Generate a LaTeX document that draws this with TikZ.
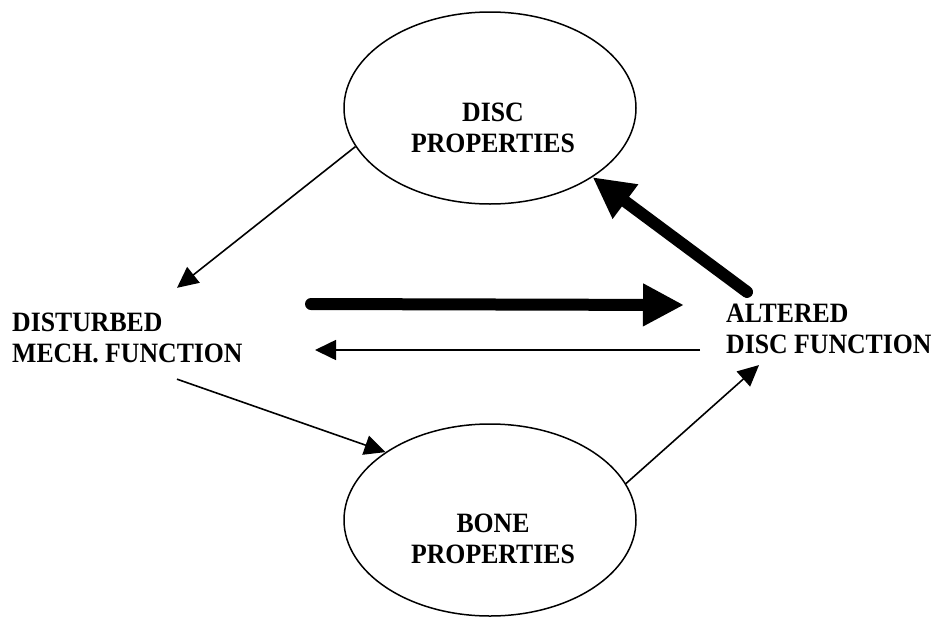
\documentclass[tikz,border=0pt]{standalone}
\usepackage{fontspec}
\setmainfont{Liberation Serif}[FakeStretch=0.92]
\usetikzlibrary{shapes.geometric,arrows.meta}

\tikzset{
  lbl/.style={font=\fontsize{28}{31}\selectfont\bfseries, inner sep=0pt, align=left},
  bubble/.style={ellipse, draw, line width=1.5pt, minimum width=292pt, minimum height=192pt, inner sep=0pt},
  bubbletext/.style={font=\fontsize{28}{31}\selectfont\bfseries, inner sep=0pt, align=center},
  thin/.style={line width=1.6pt, -{Triangle[length=21pt,width=20pt]}},
  heavy/.style={line width=12pt, line cap=round, -{Triangle[length=41pt,width=40pt]}}
}

\begin{document}
\begin{tikzpicture}[x=1pt, y=-1pt]
  \useasboundingbox (0,0) rectangle (937,616);

  % the two property bubbles
  \node[bubble, label={[bubbletext, name=disctext, xshift=3pt, yshift=-19.5pt]center:DISC\\PROPERTIES}] (disc) at (490,108) {};
  \node[bubble, label={[bubbletext, name=bonetext, xshift=3pt, yshift=-19pt]center:BONE\\PROPERTIES}] (bone) at (490,520) {};

  % side labels
  \node[lbl, anchor=west] (mech) at (12,338) {DISTURBED\\MECH. FUNCTION};
  \node[lbl, anchor=west] (alt) at (726,329) {ALTERED\\DISC FUNCTION};

  % thin connectors
  \draw[thin] (disc.196) -- ([shift={(165,-25)}]mech.north west);
  \draw[thin] ([shift={(165,16)}]mech.south west) -- (bone.147);
  \draw[thin] (bone.15) -- ([shift={(33,11)}]alt.south west);
  \draw[thin] ([shift={(-26,21)}]alt.west) -- ([shift={(303,12)}]mech.west);

  % heavy connectors
  \draw[heavy] ([shift={(299,-34)}]mech.west) -- ([shift={(-42,-24)}]alt.west);
  \draw[heavy] ([shift={(21,-12)}]alt.north west) -- (disc.326);
\end{tikzpicture}
\end{document}
